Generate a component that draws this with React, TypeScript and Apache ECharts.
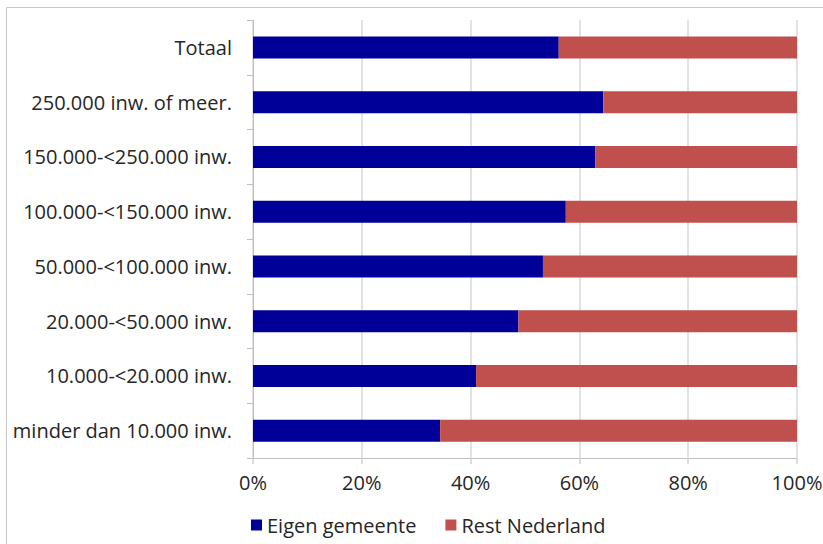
import React, { useEffect, useRef } from "react";
import * as echarts from "echarts";

const categories = [
  "Totaal",
  "250.000 inw. of meer.",
  "150.000-<250.000 inw.",
  "100.000-<150.000 inw.",
  "50.000-<100.000 inw.",
  "20.000-<50.000 inw.",
  "10.000-<20.000 inw.",
  "minder dan 10.000 inw.",
];
const eigenGemeente = [56.2, 64.4, 62.9, 57.5, 53.3, 48.8, 41.0, 34.4];
const restNederland = [43.8, 35.6, 37.1, 42.5, 46.7, 51.2, 59.0, 65.6];
const seriesNames = ["Eigen gemeente", "Rest Nederland"];

const FONT = "Open Sans";

export default function App() {
  const ref = useRef<HTMLDivElement>(null);
  useEffect(() => {
    if (!ref.current) return;
    const chart = echarts.init(ref.current, null, { renderer: "svg" });
    chart.setOption({
      animation: false,
      backgroundColor: "#ffffff",
      textStyle: { fontFamily: FONT },
      graphic: [
        {
          type: "rect",
          shape: { x: 6.5, y: 7.5, width: 840, height: 560 },
          style: { fill: "none", stroke: "#c8c8c8", lineWidth: 1 },
          silent: true,
          z: -10,
        },
      ],
      grid: {
        left: 253,
        right: 26,
        top: 20,
        bottom: 86,
        containLabel: false,
        outerBoundsMode: "none",
      },
      legend: {
        left: 246,
        top: 510,
        icon: "rect",
        itemWidth: 11,
        itemHeight: 11,
        itemGap: 29,
        textStyle: { fontFamily: FONT, fontSize: 20, color: "#262626" },
        data: seriesNames,
      },
      xAxis: {
        type: "value",
        min: 0,
        max: 100,
        interval: 20,
        axisLabel: {
          formatter: "{value}%",
          fontFamily: FONT,
          fontSize: 20,
          color: "#262626",
          margin: 14,
        },
        axisLine: { show: true, lineStyle: { color: "#bfbfbf", width: 1 } },
        axisTick: { show: true, length: 6, lineStyle: { color: "#d0d0d0", width: 1.5 } },
        splitLine: { show: true, lineStyle: { color: "#d9d9d9", width: 1.5 } },
      },
      yAxis: {
        type: "category",
        inverse: true,
        data: categories,
        axisLabel: {
          fontFamily: FONT,
          fontSize: 20,
          color: "#262626",
          margin: 21,
        },
        axisLine: { show: true, lineStyle: { color: "#bfbfbf", width: 1 } },
        axisTick: { show: true, length: 6, lineStyle: { color: "#bfbfbf" } },
      },
      series: [
        {
          name: seriesNames[0],
          type: "bar",
          stack: "total",
          barWidth: 22,
          data: eigenGemeente,
          itemStyle: { color: "#000099" },
        },
        {
          name: seriesNames[1],
          type: "bar",
          stack: "total",
          barWidth: 22,
          data: restNederland,
          itemStyle: { color: "#C0504D" },
        },
      ],
    });
    return () => chart.dispose();
  }, []);
  return <div ref={ref} style={{ width: 823, height: 544, position: "absolute", left: 0, top: 0 }} />;
}
